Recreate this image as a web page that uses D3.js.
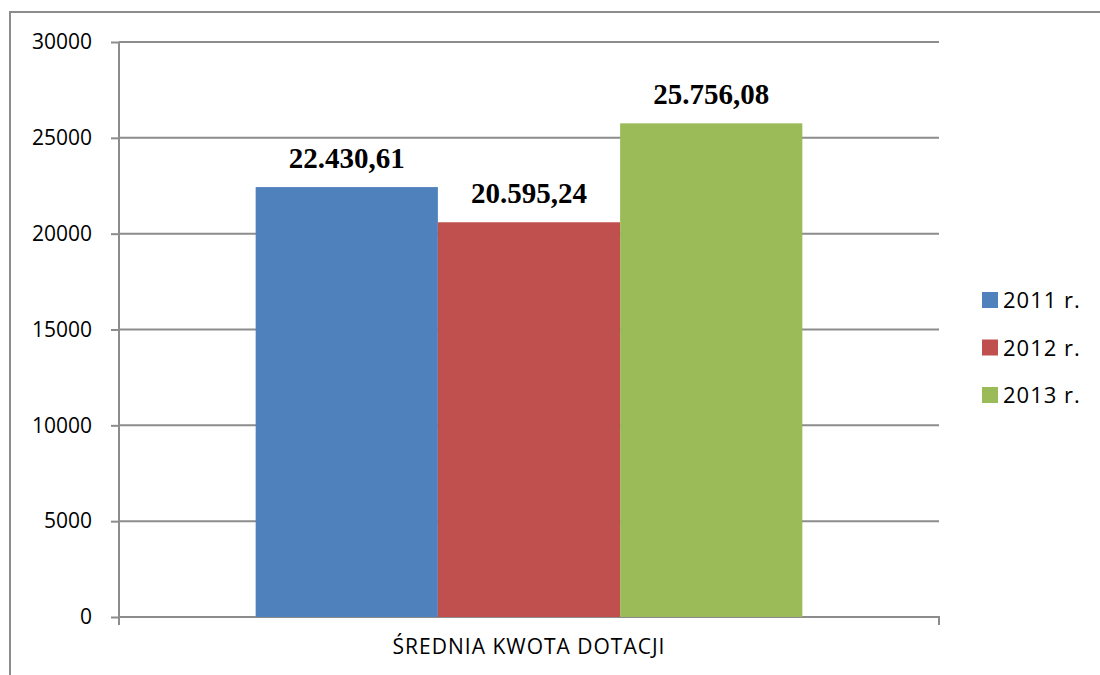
<!DOCTYPE html>
<html><head><meta charset="utf-8">
<script src="https://cdn.jsdelivr.net/npm/d3@7"></script>
<style>body{margin:0;background:#fff}svg{display:block}</style>
</head><body><svg id="c" width="1100" height="675"></svg>
<script>
const categories = ["ŚREDNIA KWOTA DOTACJI"];
const seriesNames = ["2011 r.", "2012 r.", "2013 r."];
const seriesValues = [22430.61, 20595.24, 25756.08];
const valueLabels = ["22.430,61", "20.595,24", "25.756,08"];
const seriesColors = ["#4f81bd", "#c0504d", "#9bbb59"];
const yTicks = [0, 5000, 10000, 15000, 20000, 25000, 30000];

const svg = d3.select("#c");
const grid = "#8c8c8c";
svg.append("rect").attr("x", 10).attr("y", 12).attr("width", 1100).attr("height", 700)
  .attr("fill", "none").attr("stroke", grid).attr("stroke-width", 2);

const L = 119, R = 939, T = 42, B = 617;
const y = d3.scaleLinear().domain([0, 30000]).range([B, T]);
const x0 = d3.scaleBand().domain(categories).range([L, R]).paddingInner(0).paddingOuter(0.25);
const x1 = d3.scaleBand().domain(seriesNames).range([0, x0.bandwidth()]);

svg.append("g").selectAll("line").data(yTicks.filter(d => d > 0)).join("line")
  .attr("x1", L).attr("x2", R).attr("y1", d => y(d)).attr("y2", d => y(d))
  .attr("stroke", grid).attr("stroke-width", 2);

const ya = svg.append("g").attr("transform", `translate(${L},0)`)
  .call(d3.axisLeft(y).tickValues(yTicks).tickSize(8).tickPadding(19).tickFormat(d3.format("d")));
ya.select(".domain").attr("stroke", grid).attr("stroke-width", 2).attr("d", `M0,${T}V${B}`);
ya.selectAll(".tick line").attr("stroke", grid).attr("stroke-width", 2);
ya.selectAll(".tick text").attr("font-family", "'Open Sans', sans-serif").attr("font-size", 21).attr("fill", "#000");

const xa = svg.append("g").attr("transform", `translate(0,${B})`)
  .call(d3.axisBottom(x0).tickSize(0).tickPadding(22));
xa.select(".domain").attr("stroke", grid).attr("stroke-width", 2).attr("d", `M${L},8V0H${R}V8`);
xa.selectAll(".tick text").attr("font-family", "'Open Sans', sans-serif").attr("font-size", 21)
  .attr("letter-spacing", 1).attr("fill", "#000");

const g = svg.append("g").attr("transform", `translate(${x0(categories[0])},0)`);
g.selectAll("rect").data(seriesValues).join("rect")
  .attr("x", (d, i) => x1(seriesNames[i]))
  .attr("width", x1.bandwidth())
  .attr("y", d => y(d)).attr("height", d => B - y(d))
  .attr("fill", (d, i) => seriesColors[i]);
g.selectAll("text").data(seriesValues).join("text")
  .attr("x", (d, i) => x1(seriesNames[i]) + x1.bandwidth() / 2)
  .attr("y", d => y(d) - 19)
  .attr("text-anchor", "middle")
  .attr("font-family", "'Liberation Serif', 'Times New Roman', serif")
  .attr("font-weight", "bold").attr("font-size", 29).attr("fill", "#000")
  .text((d, i) => valueLabels[i]);

const lg = svg.append("g");
const rows = lg.selectAll("g").data(seriesNames).join("g")
  .attr("transform", (d, i) => `translate(982,${300 + i * 47.5})`);
rows.append("rect").attr("x", 0).attr("y", -8).attr("width", 16).attr("height", 16)
  .attr("fill", (d, i) => seriesColors[i]);
rows.append("text").attr("x", 21).attr("y", 8)
  .attr("font-family", "'Open Sans', sans-serif").attr("font-size", 22).attr("letter-spacing", 1)
  .attr("fill", "#000")
  .text(d => d);
</script></body></html>
